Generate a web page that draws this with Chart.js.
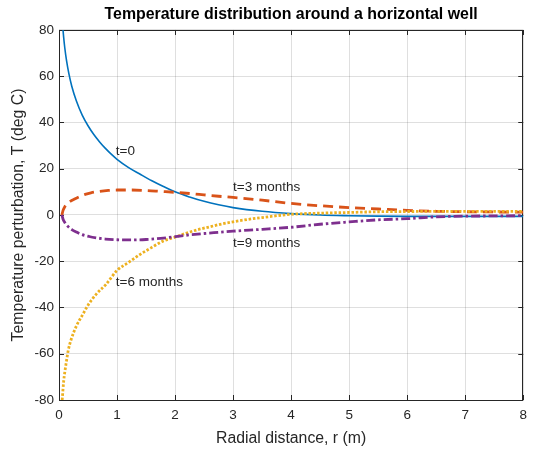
<!DOCTYPE html>
<html><head><meta charset="utf-8">
<script src="https://cdn.jsdelivr.net/npm/chart.js@4.4.1/dist/chart.umd.min.js"></script>
<style>html,body{margin:0;padding:0;background:#fff;}canvas{display:block;}</style>
</head><body>
<canvas id="c" width="534" height="454"></canvas>
<script>
// ---- data ----
const chartTitle = 'Temperature distribution around a horizontal well';
const xAxisTitle = 'Radial distance, r (m)';
const yAxisTitle = 'Temperature perturbation, T (deg C)';
const xTicks = [0, 1, 2, 3, 4, 5, 6, 7, 8];
const yTicks = [-80, -60, -40, -20, 0, 20, 40, 60, 80];

const seriesNames = ['t=0', 't=3 months', 't=6 months', 't=9 months'];

const r_t0 = [0.069,0.08,0.1,0.13,0.17,0.22,0.3,0.4,0.5,0.6,0.7,0.8,0.9,1.0,1.2,1.4,1.6,1.8,2.0,2.25,2.5,2.75,3.0,3.5,4.0,4.5,5.0,5.5,6.0,7.0,8.0];
const T_t0 = [80,76.9,72.2,66.7,61.1,55.7,49.3,43.2,38.6,34.8,31.6,28.8,26.3,24.1,20.5,17.6,14.8,12.3,10.0,7.8,5.9,4.4,3.2,1.6,0.6,0.0,-0.3,-0.5,-0.6,-0.6,-0.6];

const r_t3 = [0.05,0.07,0.1,0.15,0.2,0.26,0.35,0.45,0.55,0.7,0.85,1.0,1.25,1.5,1.75,2.0,2.25,2.5,2.75,3.0,3.5,4.0,4.5,5.0,5.5,6.0,6.5,7.0,7.5,8.0];
const T_t3 = [0,2.0,3.6,5.0,6.0,6.8,7.9,8.9,9.6,10.2,10.6,10.8,10.8,10.6,10.2,9.8,9.3,8.7,8.1,7.6,6.4,5.0,4.0,3.2,2.6,2.0,1.6,1.4,1.3,1.2];

const r_t6 = [0.055,0.08,0.12,0.16,0.21,0.3,0.41,0.5,0.65,0.81,1.0,1.2,1.4,1.6,1.8,2.0,2.2,2.4,2.6,2.8,3.1,3.5,4.0,4.5,5.0,5.5,6.0,7.0,8.0];
const T_t6 = [-80,-72,-64.6,-58.5,-53.8,-48,-43,-39,-34,-30,-24,-20.5,-17,-14,-11.2,-9.6,-7.8,-6.3,-5.1,-3.9,-2.5,-1.1,0.3,0.8,1.1,1.4,1.5,1.6,1.6];

const r_t9 = [0.05,0.07,0.1,0.15,0.22,0.3,0.4,0.52,0.65,0.8,1.0,1.25,1.5,1.75,2.0,2.25,2.5,2.75,3.0,3.5,4.0,4.5,5.0,5.5,6.0,6.5,7.0,7.5,8.0];
const T_t9 = [0,-1.8,-3.2,-4.8,-6.3,-7.4,-8.5,-9.3,-9.9,-10.4,-10.7,-10.8,-10.6,-10.1,-9.4,-8.6,-8.0,-7.5,-7.0,-6.2,-5.3,-4.0,-3.0,-2.1,-1.6,-0.8,-0.5,-0.4,-0.3];

const labelText = ['t=0', 't=3 months', 't=9 months', 't=6 months'];
const labelR = [0.98, 3.0, 3.0, 0.98];
const labelT = [27.7, 11.8, -12.4, -29.3];
// --------------------------------------

const toPts = (rs, ts) => rs.map((r, i) => ({x: r, y: ts[i]}));
const FONT = '"Liberation Sans", Arial, Helvetica, sans-serif';
const INK = '#262626';

const frame = {
  id: 'frame',
  afterLayout(chart) {
    // centre the title over the axes, as in the reference
    if (chart.titleBlock) {
      chart.titleBlock.left = chart.chartArea.left;
      chart.titleBlock.right = chart.chartArea.right;
    }
  },
  beforeDatasetsDraw(chart) {
    const {ctx, chartArea: a, scales} = chart;
    ctx.save();
    ctx.strokeStyle = INK;
    ctx.lineWidth = 1;
    const L = 5;
    ctx.beginPath();
    xTicks.forEach(v => {
      const px = Math.round(scales.x.getPixelForValue(v)) + 0.5;
      ctx.moveTo(px, a.bottom); ctx.lineTo(px, a.bottom - L);
      ctx.moveTo(px, a.top); ctx.lineTo(px, a.top + L);
    });
    yTicks.forEach(v => {
      const py = Math.round(scales.y.getPixelForValue(v)) + 0.5;
      ctx.moveTo(a.left, py); ctx.lineTo(a.left + L, py);
      ctx.moveTo(a.right, py); ctx.lineTo(a.right - L, py);
    });
    ctx.stroke();
    ctx.strokeRect(Math.round(a.left) + 0.5, Math.round(a.top) + 0.5,
                   Math.round(a.right - a.left) - 1, Math.round(a.bottom - a.top));
    ctx.restore();
  },
  afterDatasetsDraw(chart) {
    const {ctx, scales} = chart;
    ctx.save();
    ctx.fillStyle = INK;
    ctx.font = '13.5px ' + FONT;
    ctx.textAlign = 'left';
    ctx.textBaseline = 'middle';
    labelText.forEach((t, i) => {
      ctx.fillText(t, scales.x.getPixelForValue(labelR[i]), scales.y.getPixelForValue(labelT[i]));
    });
    ctx.restore();
  }
};

new Chart(document.getElementById('c'), {
  type: 'line',
  data: {
    datasets: [
      {label: seriesNames[0], data: toPts(r_t0, T_t0), borderColor: '#0072BD', borderWidth: 1.6, order: 4},
      {label: seriesNames[1], data: toPts(r_t3, T_t3), borderColor: '#D95319', borderWidth: 2.8, borderDash: [10, 6], order: 3},
      {label: seriesNames[2], data: toPts(r_t6, T_t6), borderColor: '#EDB120', borderWidth: 2.8, borderDash: [2.5, 1.8], order: 2},
      {label: seriesNames[3], data: toPts(r_t9, T_t9), borderColor: '#7E2F8E', borderWidth: 2.8, borderDash: [9, 3, 2.5, 3], order: 1}
    ]
  },
  options: {
    responsive: false,
    animation: false,
    events: [],
    parsing: false,
    elements: {
      point: {radius: 0},
      line: {fill: false, cubicInterpolationMode: 'monotone', borderCapStyle: 'butt'}
    },
    layout: {padding: {left: 0, right: 7, top: 0, bottom: 0}},
    plugins: {
      legend: {display: false},
      tooltip: {enabled: false},
      title: {
        display: true, text: chartTitle, color: '#000',
        font: {family: FONT, size: 15.9, weight: 'bold'},
        padding: {top: 5.5, bottom: 5.4}
      }
    },
    scales: {
      x: {
        type: 'linear', min: 0, max: 8,
        afterBuildTicks: s => { s.ticks = xTicks.map(v => ({value: v})); },
        afterFit: s => { s.height = 54; },
        ticks: {color: INK, font: {family: FONT, size: 13.5}, padding: 7, maxRotation: 0},
        grid: {color: 'rgba(38,38,38,0.15)', drawTicks: false},
        border: {display: false},
        title: {display: true, text: xAxisTitle, color: INK, font: {family: FONT, size: 15.8}, padding: {top: 0, bottom: 6}}
      },
      y: {
        type: 'linear', min: -80, max: 80,
        afterBuildTicks: s => { s.ticks = yTicks.map(v => ({value: v})); },
        afterFit: s => { s.width = 59; },
        ticks: {color: INK, font: {family: FONT, size: 13.5}, padding: 5},
        grid: {color: 'rgba(38,38,38,0.15)', drawTicks: false},
        border: {display: false},
        title: {display: true, text: yAxisTitle, color: INK, font: {family: FONT, size: 15.8}, padding: {top: 9.5, bottom: 0}}
      }
    }
  },
  plugins: [frame]
});
</script>
</body></html>
